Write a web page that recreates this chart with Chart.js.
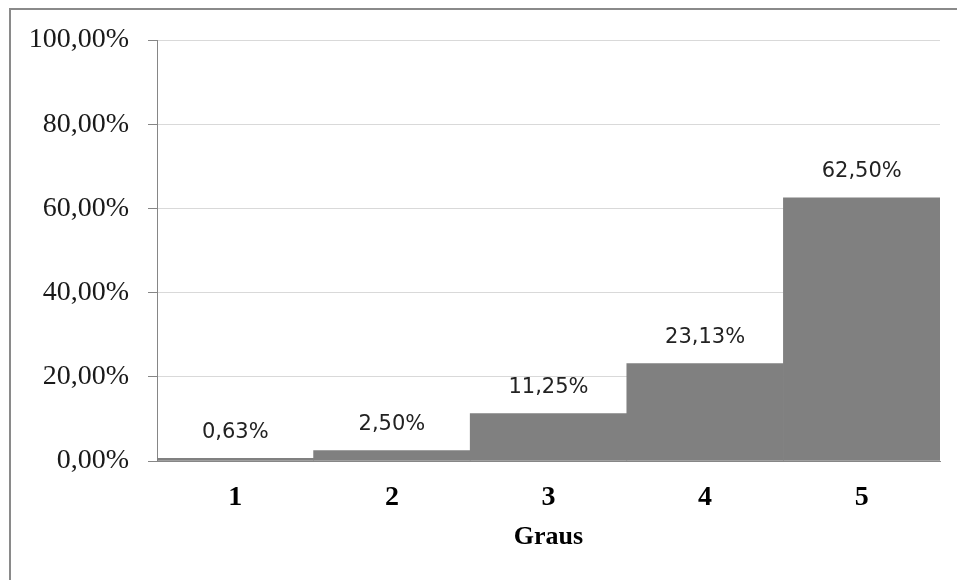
<!DOCTYPE html>
<html>
<head>
<meta charset="utf-8">
<style>
  html, body { margin: 0; padding: 0; background: #fff; }
  canvas { display: block; }
</style>
<script src="https://cdn.jsdelivr.net/npm/chart.js@4/dist/chart.umd.min.js"></script>
</head>
<body>
<canvas id="c" width="957" height="580"></canvas>
<script>
// Distribution of answers by degree (percent)
const categories = ['1', '2', '3', '4', '5'];
const percentages = [0.63, 2.50, 11.25, 23.13, 62.50];
const yTicks = [0, 20, 40, 60, 80, 100];
const axisTitle = 'Graus';

const fmt = v => v.toFixed(2).replace('.', ',') + '%';

// Grey frame along the top and left edge of the figure
const framePlugin = {
  id: 'frame',
  beforeDraw(chart) {
    const ctx = chart.ctx;
    ctx.save();
    ctx.fillStyle = '#fff';
    ctx.fillRect(0, 0, chart.width, chart.height);
    ctx.fillStyle = '#8a8a8a';
    ctx.fillRect(9, 8, chart.width - 9, 2);
    ctx.fillRect(9, 8, 2, chart.height - 8);
    ctx.restore();
  }
};

// Value labels above each bar
const valueLabels = {
  id: 'valueLabels',
  afterDatasetsDraw(chart) {
    const ctx = chart.ctx;
    const meta = chart.getDatasetMeta(0);
    ctx.save();
    ctx.font = '21px "DejaVu Sans", sans-serif';
    ctx.fillStyle = '#222';
    ctx.textAlign = 'center';
    ctx.textBaseline = 'middle';
    meta.data.forEach((bar, i) => {
      ctx.fillText(fmt(percentages[i]), bar.x, bar.y - 26);
    });
    ctx.restore();
  }
};

new Chart(document.getElementById('c'), {
  type: 'bar',
  data: {
    labels: categories,
    datasets: [{
      data: percentages,
      backgroundColor: '#808080',
      borderWidth: 0,
      barPercentage: 1,
      categoryPercentage: 1
    }]
  },
  options: {
    responsive: false,
    devicePixelRatio: 1,
    animation: false,
    layout: { padding: { left: 0, right: 17, top: 40, bottom: 0 } },
    plugins: {
      legend: { display: false },
      tooltip: { enabled: false }
    },
    scales: {
      x: {
        grid: { display: false, drawTicks: false },
        border: { display: true, color: '#868686', width: 1 },
        ticks: {
          padding: 20,
          color: '#000',
          font: { family: '"Liberation Serif", "Times New Roman", serif', size: 28, weight: 'bold' }
        },
        title: {
          display: true,
          text: axisTitle,
          color: '#000',
          padding: { top: 0, bottom: 27 },
          font: { family: '"Liberation Serif", "Times New Roman", serif', size: 26, weight: 'bold' }
        },
        afterFit(s) { s.height = 119; }
      },
      y: {
        min: 0,
        max: 100,
        afterBuildTicks(s) { s.ticks = yTicks.map(v => ({ value: v })); },
        grid: { color: '#d9d9d9', tickColor: '#868686', tickLength: 9, lineWidth: 1 },
        border: { display: true, color: '#868686', width: 1 },
        ticks: {
          padding: 19,
          color: '#1a1a1a',
          callback: v => fmt(v),
          font: { family: '"Liberation Serif", "Times New Roman", serif', size: 28 }
        },
        afterFit(s) { s.width = 157; }
      }
    }
  },
  plugins: [framePlugin, valueLabels]
});
</script>
</body>
</html>
